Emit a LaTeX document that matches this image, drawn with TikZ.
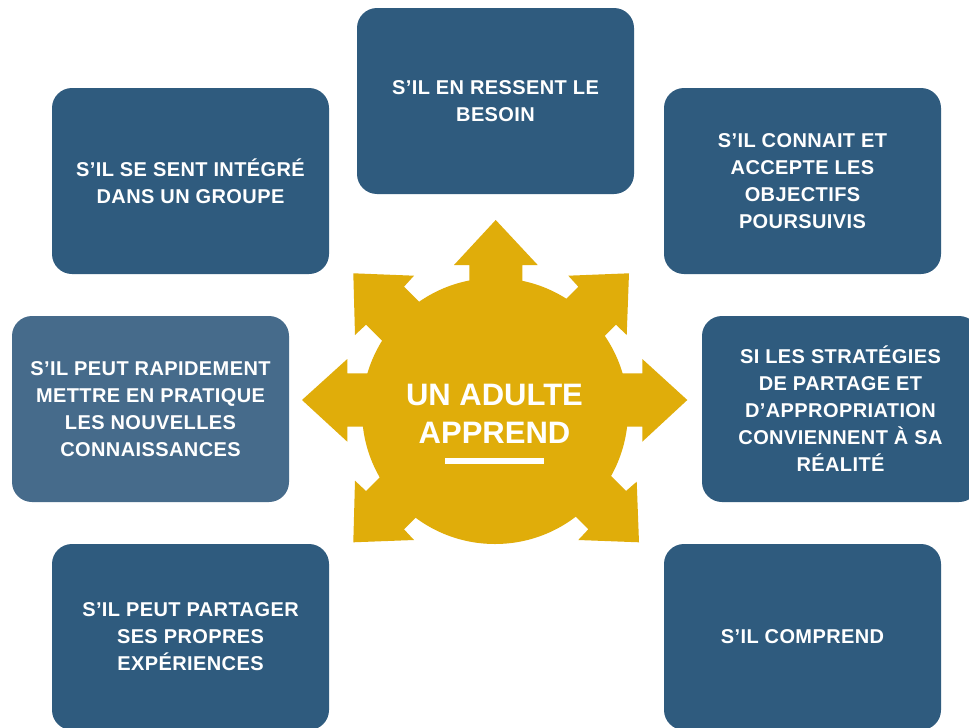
\documentclass[tikz,border=0pt]{standalone}
\usepackage{fontspec}
\setmainfont{Liberation Sans}
\definecolor{boxblue}{HTML}{2F5B7E}
\definecolor{boxlight}{HTML}{466B8B}
\definecolor{gold}{HTML}{E0AD0A}
\tikzset{
  box/.style={fill=boxblue, rounded corners=20pt, minimum width=277pt, minimum height=186pt,
    text=white, align=center, font=\bfseries\fontsize{20}{27}\selectfont\addfontfeature{LetterSpace=2}, inner sep=0pt},
  goldfill/.style={fill=gold, draw=none},
  titletext/.style={text=white, align=center, font=\bfseries\fontsize{31}{38}\selectfont, inner sep=0pt, anchor=base}
}
\begin{document}
\begin{tikzpicture}[x=1pt,y=-1pt]
\useasboundingbox (0,0) rectangle (969,728);
\clip (0,0) rectangle (969,728);
\fill[white] (0,0) rectangle (969,728);
% boxes
\node[box] (b1) at (495.5,101) {S’IL EN RESSENT LE\\BESOIN};
\node[box] (b2) at (190.5,181) {S’IL SE SENT INTÉGRÉ\\DANS UN GROUPE};
\node[box] (b3) at (802.5,181) {S’IL CONNAIT ET\\ACCEPTE LES\\OBJECTIFS\\POURSUIVIS};
\node[box, fill=boxlight] (b4) at (150.5,409) {S’IL PEUT RAPIDEMENT\\METTRE EN PRATIQUE\\LES NOUVELLES\\CONNAISSANCES};
\node[box] (b5) at (840.5,409) {SI LES STRATÉGIES\\DE PARTAGE ET\\D’APPROPRIATION\\CONVIENNENT À SA\\RÉALITÉ};
\node[box] (b6) at (190.5,637) {S’IL PEUT PARTAGER\\SES PROPRES\\EXPÉRIENCES};
\node[box] (b7) at (802.5,637) {S’IL COMPREND};
% central shape
\fill[goldfill] (495,411) circle[radius=133];
\fill[goldfill] (495.7,220) -- (537.7,265) -- (522.3,265) -- (522.3,320) -- (469.3,320) -- (469.3,265) -- (454,265) -- cycle;
\fill[goldfill] (302,400) -- (347.3,359) -- (347.3,373.3) -- (420,373.3) -- (420,426.7) -- (347.3,426.7) -- (347.3,441.7) -- cycle;
\fill[goldfill] (687.3,400) -- (642.3,359) -- (642.3,373.3) -- (570,373.3) -- (570,426.7) -- (642.3,426.7) -- (642.3,441.7) -- cycle;
\fill[goldfill] (353.3,273.3) -- (414,275.7) -- (404,286.7) -- (444,326.7) -- (406,364.7) -- (366,324.7) -- (355,335) -- cycle;
\fill[goldfill] (629,273.3) -- (568.3,275.7) -- (578.3,286.7) -- (538.3,326.7) -- (576,364.7) -- (616,324.7) -- (626.7,335) -- cycle;
\fill[goldfill] (353.3,542.3) -- (414,540) -- (404,529.3) -- (444,489.3) -- (406,451) -- (366,491) -- (355,480.7) -- cycle;
\fill[goldfill] (639,542.3) -- (578.3,540) -- (588.3,529.3) -- (548.3,489.3) -- (586,451) -- (626,491) -- (636.7,481.7) -- cycle;
\node[titletext] (title) at (494.5,405) {UN ADULTE};
\node[titletext] (title2) at (494.5,443) {APPREND};
\fill[white] (445,458.3) rectangle (544.3,464);
\end{tikzpicture}
\end{document}
